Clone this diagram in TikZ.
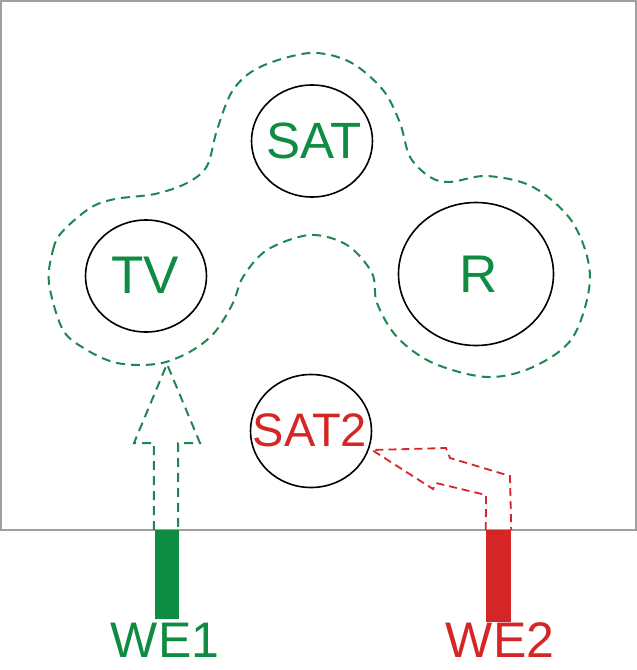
\documentclass[tikz,border=0pt]{standalone}
\usepackage{fontspec}
\setmainfont{Liberation Sans}
\usetikzlibrary{shapes.geometric}
\definecolor{mygreen}{RGB}{14,140,66}
\definecolor{dashgreen}{RGB}{30,135,80}
\definecolor{myred}{RGB}{212,38,38}
\definecolor{framegray}{RGB}{160,160,160}
\begin{document}
\begin{tikzpicture}[x=1pt,y=-1pt,
  ring/.style={ellipse, draw=black, line width=1.6pt, inner sep=0pt},
  lbl/.style={inner sep=0pt, text=mygreen},
  blob/.style={draw=dashgreen, line width=2pt, dash pattern=on 9pt off 6pt},
  redarrow/.style={draw=myred, line width=1.8pt, dash pattern=on 8pt off 5pt},
  greenarrow/.style={draw=dashgreen, line width=2pt, dash pattern=on 9pt off 6pt},
  bar/.style={inner sep=0pt, minimum width=24pt, minimum height=89pt}]
\useasboundingbox (0,0) rectangle (637,670);
\fill[white] (0,0) rectangle (637,670);
\draw[framegray, line width=1.4pt] (1,1) rectangle (636,530);
% circles
\node[ring, minimum width=121pt, minimum height=112pt] (satc) at (312,141) {};
\node[ring, minimum width=121pt, minimum height=112pt] (tvc) at (146,276) {};
\node[ring, minimum width=155pt, minimum height=143pt] (rc) at (476,274) {};
\node[ring, minimum width=121pt, minimum height=113pt] (sat2c) at (311,431) {};
% labels
\node[lbl, font=\fontsize{51}{60}\selectfont] (sat) at (314,141) {SAT};
\node[lbl, font=\fontsize{53}{60}\selectfont] (tv) at (145,275) {TV};
\node[lbl, font=\fontsize{53}{60}\selectfont] (r) at (479,274) {R};
\node[inner sep=0pt, text=myred, font=\fontsize{47}{56}\selectfont] (sat2) at (310,430) {SAT2};
% dashed group outline
\draw[blob] plot[smooth cycle, tension=0.55] coordinates {
 (49,283) (53,250) (62,232) (90,208) (115,199) (155,194)
 (187,183) (207,166) (217,130) (233,90) (260,67) (310,53) (350,62) (383,90)
 (400,123) (410,157) (430,177) (450,182) (487,176) (533,187) (573,223)
 (590,277) (573,337) (533,367) (487,377) (433,363) (397,337) (377,303)
 (372,273) (347,245) (310,235) (267,250) (243,277) (233,303) (215,332)
 (193,350) (166,362) (140,365) (113,362) (87,350) (63,330)};
% bars
\node[bar, fill=mygreen, anchor=north] (we1bar) at (167,530) {};
\node[bar, fill=myred, minimum width=25pt, minimum height=92pt, anchor=north] (we2bar) at (498.5,530) {};
\coordinate (g1) at (we1bar.north west);
\coordinate (g2) at (we1bar.north east);
\coordinate (r1) at (we2bar.north west);
\coordinate (r2) at (we2bar.north east);
% green hollow arrow
\draw[greenarrow] ([xshift=-1pt]g1) -- (154,443) -- (134,443) -- (167,364) -- (200,443) -- (178,443) -- ([xshift=-1pt]g2);
% red hollow arrow
\draw[redarrow] (r1) -- (486,495) -- (436,483) -- (433,489) -- (372,450) -- (446,448) -- (450,458) -- (510,476) -- (r2);
% bottom labels
\node[inner sep=0pt, text=mygreen, font=\fontsize{50}{60}\selectfont, anchor=base] (we1) at (165,657) {WE1};
\node[inner sep=0pt, text=myred, font=\fontsize{50}{60}\selectfont, anchor=base] (we2) at (500,657) {WE2};
\end{tikzpicture}
\end{document}
